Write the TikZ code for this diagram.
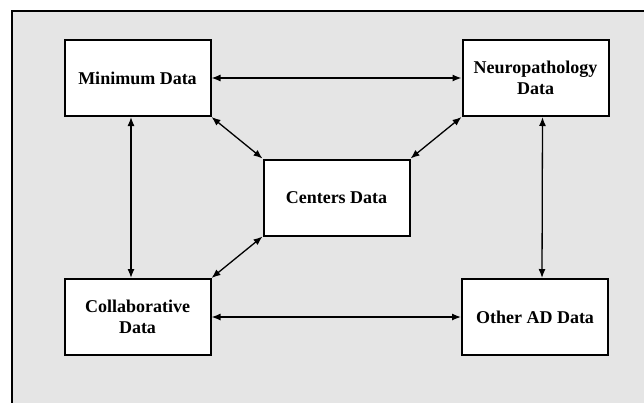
\documentclass[tikz,border=0pt]{standalone}
\usepackage{fontspec}
\setmainfont{Liberation Serif}
\usepackage{xcolor}
\usepackage{tikz}
\usetikzlibrary{arrows.meta,positioning}
\definecolor{panelgray}{RGB}{229,229,229}
\tikzset{
    databox/.style={draw, line width=2pt, fill=white, minimum width=146pt,
        minimum height=76pt, align=center,
        font=\bfseries\fontsize{18}{21.6}\selectfont},
    link/.style={line width=1.3pt, {Latex[length=9pt,width=7pt]}-{Latex[length=9pt,width=7pt]}}
}
\begin{document}
\begin{tikzpicture}[x=1pt, y=-1pt]
    % Page and grey panel
    \clip (0,0) rectangle (644,402);
    \fill[white] (0,0) rectangle (644,402);
    \draw[line width=2pt, fill=panelgray] (12,11) rectangle (670,430);

    % Data boxes
    \node[databox] (minimum) at (137.5,78) {Minimum Data};
    \node[databox] (neuro) at (535.5,78) {Neuropathology\\Data};
    \node[databox] (centers) at (336.5,197.5) {Centers Data};
    \node[databox] (collab) at (137.5,317) {Collaborative\\Data};
    \node[databox] (otherad) at (535,317) {Other AD Data};

    % Links
    \draw[link] (minimum.east) -- (neuro.west);
    \draw[link] (collab.east) -- (otherad.west);
    \draw[link] ([xshift=-6.5pt]minimum.south) -- ([xshift=-6.5pt]collab.north);
    \draw[link] ([xshift=7pt]neuro.south) -- ([xshift=7pt]otherad.north);
    \draw[link] (minimum.south east) -- (centers.north west);
    \draw[link] (neuro.south west) -- (centers.north east);
    \draw[link] (centers.south west) -- (collab.north east);
\end{tikzpicture}
\end{document}
